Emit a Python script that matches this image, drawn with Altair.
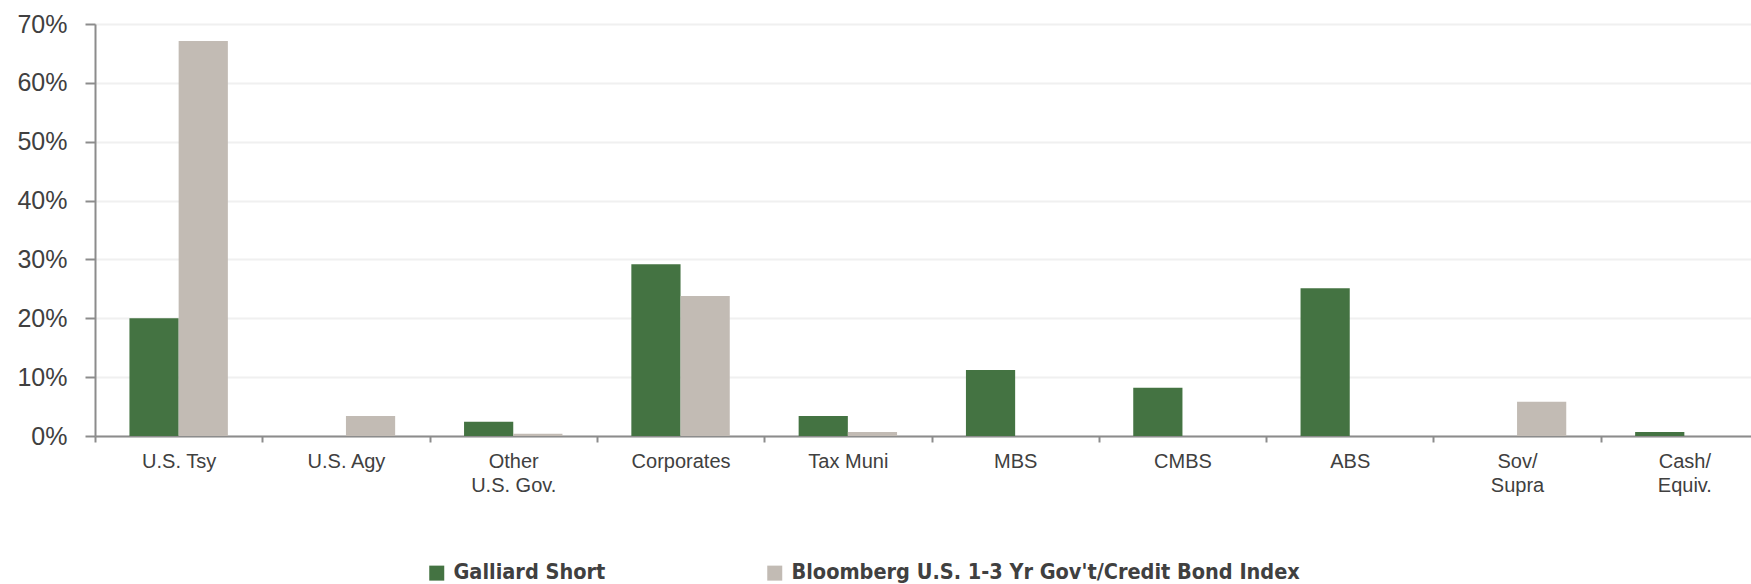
import altair as alt
import pandas as pd

categories = ["U.S. Tsy", "U.S. Agy", "Other\nU.S. Gov.", "Corporates", "Tax Muni",
              "MBS", "CMBS", "ABS", "Sov/\nSupra", "Cash/\nEquiv."]
galliard = [20.0, 0.0, 2.4, 29.2, 3.4, 11.2, 8.2, 25.1, 0.0, 0.7]
bloomberg = [67.1, 3.4, 0.4, 23.8, 0.7, 0.0, 0.0, 0.0, 5.8, 0.0]
series_names = ["Galliard Short", "Bloomberg U.S. 1-3 Yr Gov't/Credit Bond Index"]
colors = ["#447342", "#C2BBB4"]
y_ticks = [0, 10, 20, 30, 40, 50, 60, 70]

rows = []
for c, g, b in zip(categories, galliard, bloomberg):
    rows.append({"category": c, "series": series_names[0], "value": g / 100})
    rows.append({"category": c, "series": series_names[1], "value": b / 100})
df = pd.DataFrame(rows)

chart = alt.Chart(df).mark_bar().encode(
    x=alt.X("category:N", sort=categories, title=None,
            scale=alt.Scale(range=[0, 1673], paddingInner=0, paddingOuter=0),
            axis=alt.Axis(labelAngle=0, labelExpr="split(datum.label, '\\n')",
                          labelFont="Liberation Sans", labelFontSize=20, labelColor="#404040",
                          labelLineHeight=24, labelPadding=9, labelLimit=300,
                          tickBand="extent", tickSize=6, tickColor="#8C8C8C", tickWidth=2,
                          domainColor="#8C8C8C", domainWidth=2, grid=False)),
    xOffset=alt.XOffset("series:N", sort=series_names,
                        scale=alt.Scale(paddingInner=0, paddingOuter=0.7)),
    y=alt.Y("value:Q", title=None,
            scale=alt.Scale(domain=[0, 0.7], nice=False),
            axis=alt.Axis(values=[t / 100 for t in y_ticks], format=".0%",
                          labelFont="Liberation Sans", labelFontSize=25, labelColor="#404040",
                          labelPadding=18, tickSize=10, tickColor="#8C8C8C", tickWidth=2,
                          domainColor="#8C8C8C", domainWidth=2,
                          grid=True, gridColor="#F0F0F0", gridWidth=2)),
    color=alt.Color("series:N", sort=series_names,
                    scale=alt.Scale(domain=series_names, range=colors),
                    legend=alt.Legend(title=None, orient="none", legendX=331, legendY=538,
                                      direction="horizontal", columns=2, columnPadding=158,
                                      symbolType="square", symbolSize=225, symbolStrokeWidth=0,
                                      labelFont="DejaVu Sans Condensed", labelFontWeight="bold",
                                      labelFontSize=21.5, labelColor="#404040", labelOffset=6,
                                      labelLimit=1000)),
).properties(
    width=1656, height=412,
    autosize=alt.AutoSizeParams(type="none"),
    padding={"left": 95, "top": 24, "right": 0, "bottom": 148},
).configure_view(stroke=None).configure(background="white")

chart.save("out.html", embed_options={"renderer": "svg", "actions": False})
